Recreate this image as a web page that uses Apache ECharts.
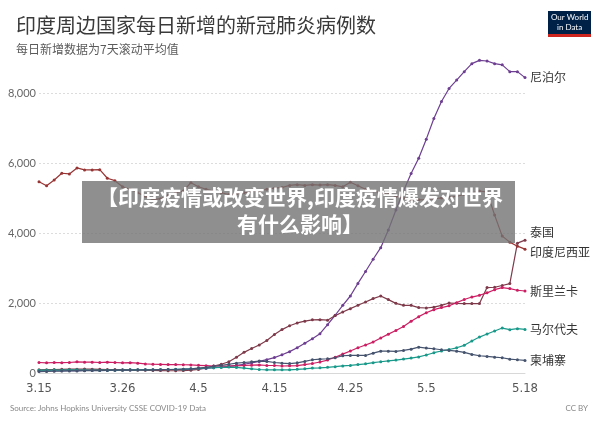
<!DOCTYPE html>
<html>
<head>
<meta charset="utf-8">
<script src="https://cdn.jsdelivr.net/npm/echarts@6/dist/echarts.min.js"></script>
<style>
  html, body { margin: 0; padding: 0; background: #fff; }
  #chart { width: 600px; height: 423px; }
</style>
</head>
<body>
<div id="chart"></div>
<script>
// 3.15 - 5.18, daily
const dates = [
  '3.15','3.16','3.17','3.18','3.19','3.20','3.21','3.22','3.23','3.24','3.25','3.26','3.27','3.28','3.29','3.30','3.31',
  '4.1','4.2','4.3','4.4','4.5','4.6','4.7','4.8','4.9','4.10','4.11','4.12','4.13','4.14','4.15','4.16','4.17','4.18','4.19','4.20',
  '4.21','4.22','4.23','4.24','4.25','4.26','4.27','4.28','4.29','4.30',
  '5.1','5.2','5.3','5.4','5.5','5.6','5.7','5.8','5.9','5.10','5.11','5.12','5.13','5.14','5.15','5.16','5.17','5.18'
];
const tickLabels = ['3.15', '3.26', '4.5', '4.15', '4.25', '5.5', '5.18'];
const yTicks = [0, 2000, 4000, 6000, 8000];

const nepal = [
  60, 60, 65, 65, 70, 70, 75, 75, 80, 80,
  80, 85, 85, 90, 90, 95, 95, 100, 100, 105,
  110, 120, 130, 150, 170, 190, 220, 250, 290, 330,
  380, 440, 520, 610, 720, 850, 980, 1123, 1380, 1650,
  1934, 2200, 2560, 2900, 3250, 3580, 4083, 4656, 5200, 5700,
  6137, 6681, 7270, 7758, 8130, 8370, 8610, 8838, 8933, 8915,
  8838, 8805, 8610, 8610, 8440
];
const thailand = [
  90, 95, 100, 105, 110, 110, 115, 110, 105, 100,
  100, 95, 90, 85, 80, 75, 70, 65, 65, 70,
  80, 100, 150, 200, 250, 320, 450, 590, 700, 800,
  930, 1100, 1240, 1350, 1430, 1480, 1520, 1524, 1510, 1640,
  1742, 1839, 1934, 2028, 2126, 2200, 2097, 1990, 1934, 1934,
  1868, 1857, 1880, 1934, 2000, 1990, 1983, 1983, 1983, 2441,
  2450, 2500, 2555, 3710, 3796
];
const indonesia = [
  5466, 5352, 5515, 5707, 5687, 5859, 5802, 5802, 5810, 5564,
  5495, 5323, 5250, 5150, 5050, 4950, 4980, 5080, 5150, 5200,
  5438, 5323, 5250, 5200, 5150, 5100, 5120, 5150, 5180, 5200,
  5250, 5280, 5300, 5360, 5380, 5360, 5380, 5370, 5380, 5360,
  5320, 5450, 5350, 5250, 5200, 5150, 5100, 5050, 5000, 4950,
  4950, 4950, 4980, 5000, 5020, 5050, 5100, 5150, 5200, 5171,
  4512, 3911, 3739, 3624, 3538
];
const sriLanka = [
  300, 290, 300, 295, 300, 320, 310, 310, 300, 310,
  300, 290, 295, 280, 260, 250, 245, 240, 240, 235,
  230, 220, 210, 200, 200, 195, 205, 215, 225, 230,
  215, 215, 200, 206, 212, 240, 272, 315, 370, 450,
  540, 630, 720, 800, 883, 1000, 1110, 1215, 1330, 1480,
  1610, 1720, 1810, 1870, 1920, 2010, 2100, 2170, 2220, 2290,
  2380, 2441, 2412, 2364, 2343
];
const maldives = [
  80, 80, 85, 85, 90, 90, 85, 85, 80, 80,
  80, 85, 90, 90, 95, 95, 100, 100, 105, 110,
  120, 130, 140, 150, 160, 170, 160, 140, 120, 100,
  92, 92, 92, 92, 104, 118, 140, 149, 163, 182,
  202, 217, 240, 262, 295, 322, 346, 370, 397, 426,
  460, 515, 580, 628, 672, 720, 790, 915, 1026, 1115,
  1200, 1284, 1238, 1266, 1246
];
const cambodia = [
  40, 45, 50, 55, 60, 60, 65, 70, 70, 75,
  80, 80, 85, 85, 90, 90, 95, 100, 100, 110,
  120, 140, 160, 190, 220, 250, 280, 300, 320, 340,
  330, 300, 280, 270, 290, 330, 378, 395, 407, 435,
  493, 501, 501, 501, 567, 625, 625, 616, 645, 682,
  739, 711, 693, 665, 645, 625, 587, 530, 493, 473,
  453, 435, 395, 378, 358
];

const cjk = '"Noto Sans CJK SC", "Noto Sans", sans-serif';

function line(name, data, color, dy) {
  return {
    name: name,
    type: 'line',
    data: data,
    clip: false,
    symbol: 'circle',
    symbolSize: 3,
    color: color,
    lineStyle: { width: 1.2, color: color },
    itemStyle: { color: color },
    emphasis: { disabled: true },
    endLabel: {
      show: true,
      formatter: '{a}',
      distance: 5,
      offset: [0, dy],
      color: '#333',
      fontSize: 12,
      fontFamily: cjk
    }
  };
}

const chart = echarts.init(document.getElementById('chart'));
chart.setOption({
  animation: false,
  title: {
    text: '印度周边国家每日新增的新冠肺炎病例数',
    subtext: '每日新增数据为7天滚动平均值',
    left: 11,
    top: 9,
    itemGap: 5,
    textStyle: { fontSize: 20, lineHeight: 22, color: '#3a3a3a', fontWeight: 'normal', fontFamily: cjk },
    subtextStyle: { fontSize: 12, lineHeight: 16, color: '#5b5b5b', fontFamily: cjk }
  },
  grid: { left: 39, right: 75, top: 93, bottom: 50, containLabel: false },
  xAxis: {
    type: 'category',
    data: dates,
    boundaryGap: false,
    axisLine: { show: true, lineStyle: { color: '#d8d8d8' } },
    axisTick: { show: false },
    axisLabel: {
      interval: function (i, v) { return tickLabels.indexOf(v) >= 0; },
      margin: 9,
      fontSize: 13,
      color: '#555',
      fontFamily: '"Liberation Sans Narrow", "DejaVu Sans Condensed", Roboto, sans-serif'
    }
  },
  yAxis: {
    type: 'value',
    min: yTicks[0],
    max: yTicks[yTicks.length - 1],
    interval: 2000,
    axisLine: { show: false },
    axisTick: { show: false },
    axisLabel: {
      margin: 3,
      fontSize: 11,
      color: '#666',
      fontFamily: 'Lato, "Noto Sans", sans-serif',
      formatter: function (v) { return v.toLocaleString('en-US'); }
    },
    splitLine: { lineStyle: { color: '#dcdcdc', type: [2, 2] } }
  },
  series: [
    line('尼泊尔', nepal, '#6D3E91', 0),
    line('泰国', thailand, '#7E3A4A', -8),
    line('印度尼西亚', indonesia, '#983434', 3),
    line('斯里兰卡', sriLanka, '#CC1E62', 0),
    line('马尔代夫', maldives, '#18998A', 0),
    line('柬埔寨', cambodia, '#45536E', 0)
  ],
  graphic: [
    { type: 'rect', left: 548, top: 11, shape: { width: 43, height: 26 }, style: { fill: '#002147' } },
    { type: 'rect', left: 548, top: 34, shape: { width: 43, height: 3 }, style: { fill: '#ce261e' } },
    { type: 'text', left: 551, top: 13, style: { text: 'Our World', fill: '#fff', fontSize: 8, fontFamily: 'Lato, sans-serif' } },
    { type: 'text', left: 557, top: 23, style: { text: 'in Data', fill: '#fff', fontSize: 8, fontFamily: 'Lato, sans-serif' } },
    { type: 'rect', left: 82, top: 181, z: 100, shape: { width: 433, height: 62 }, style: { fill: 'rgba(115,115,115,0.8)' } },
    { type: 'text', x: 300, y: 197, z: 101,
      style: { text: '【印度疫情或改变世界,印度疫情爆发对世界', fill: '#fff', fontSize: 21, fontWeight: 'bold',
               fontFamily: cjk, align: 'center', verticalAlign: 'middle' } },
    { type: 'text', x: 300, y: 224, z: 101,
      style: { text: '有什么影响】', fill: '#fff', fontSize: 21, fontWeight: 'bold',
               fontFamily: cjk, align: 'center', verticalAlign: 'middle' } },
    { type: 'text', left: 10, top: 404, style: { text: 'Source: Johns Hopkins University CSSE COVID-19 Data', fill: '#888', fontSize: 8, fontFamily: 'Lato, sans-serif' } },
    { type: 'text', right: 12, top: 404, style: { text: 'CC BY', fill: '#888', fontSize: 8, fontFamily: 'Lato, sans-serif' } }
  ]
});
</script>
</body>
</html>
